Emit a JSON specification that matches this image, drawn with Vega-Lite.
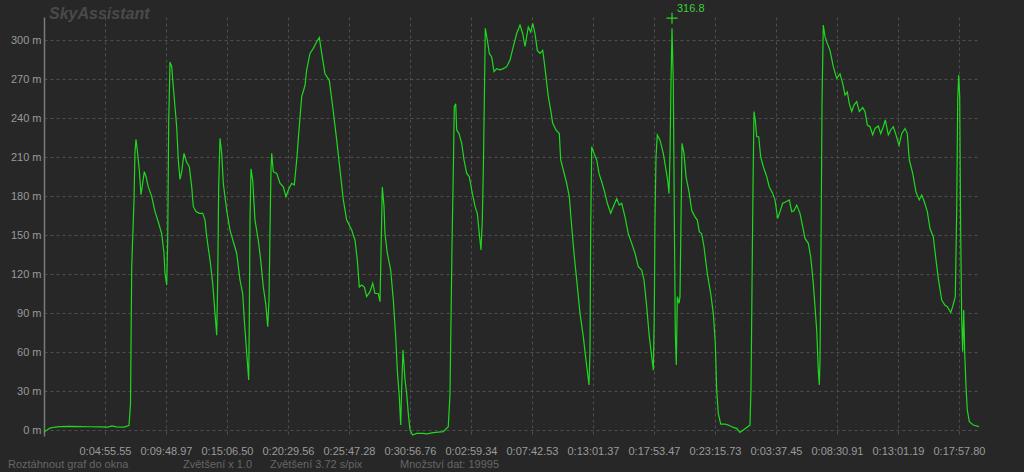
{
  "$schema": "https://vega.github.io/schema/vega-lite/v6.json",
  "autosize": "none",
  "width": 936,
  "height": 419,
  "padding": {"left": 44, "top": 17, "right": 44, "bottom": 36},
  "background": "#272727",
  "config": {
    "view": {"stroke": null},
    "font": "Liberation Sans Narrow, Liberation Sans, sans-serif",
    "axis": {"labelFont": "Liberation Sans Narrow, Liberation Sans, sans-serif", "labelFontSize": 11, "labelColor": "#9a9a9a", "gridColor": "#4e4e4e", "gridDash": [3, 3], "gridWidth": 1, "ticks": false, "title": null}
  },
  "datasets": {
    "flight": [
{"i":44,"h":-1.5},{"i":47,"h":0},{"i":50,"h":1.5},{"i":55,"h":2.3},{"i":60,"h":2.6},{"i":70,"h":2.8},{"i":80,"h":2.6},{"i":90,"h":2.5},{"i":100,"h":2.4},{"i":108,"h":2.3},{"i":112,"h":3.2},{"i":116,"h":2.4},{"i":124,"h":2.2},{"i":129,"h":3.4},{"i":130.5,"h":20},{"i":131.7,"h":125},{"i":134,"h":177},{"i":135,"h":214},{"i":136,"h":223.6},{"i":137.3,"h":215},{"i":139.3,"h":200},{"i":141,"h":181},{"i":142.7,"h":190},{"i":144.3,"h":198.7},{"i":146,"h":195},{"i":148.3,"h":187},{"i":151.7,"h":179.5},{"i":155,"h":168},{"i":158.3,"h":160},{"i":161.7,"h":151},{"i":164,"h":136},{"i":165,"h":120.5},{"i":166.7,"h":111.5},{"i":167.7,"h":146},{"i":168.7,"h":236},{"i":170,"h":283},{"i":171.7,"h":279.5},{"i":173.3,"h":264},{"i":175,"h":248.7},{"i":176.7,"h":233},{"i":178.3,"h":207.7},{"i":180,"h":192.8},{"i":181.7,"h":198.7},{"i":184,"h":212.8},{"i":186.7,"h":206},{"i":189.3,"h":202.5},{"i":191.7,"h":187},{"i":193.3,"h":172},{"i":196,"h":168},{"i":199.3,"h":166.7},{"i":202.7,"h":166.7},{"i":205,"h":161.5},{"i":206.7,"h":148.7},{"i":210,"h":130.8},{"i":212.7,"h":112.8},{"i":215,"h":89.7},{"i":216.7,"h":73},{"i":217.7,"h":115},{"i":218.7,"h":187},{"i":220,"h":224.4},{"i":221.7,"h":212.8},{"i":223.3,"h":189.8},{"i":226.7,"h":169},{"i":230,"h":153.8},{"i":233.3,"h":144.8},{"i":236.7,"h":136},{"i":240,"h":115.4},{"i":242.7,"h":105},{"i":244.3,"h":84.6},{"i":246.7,"h":59},{"i":248.7,"h":38.5},{"i":249.3,"h":84.6},{"i":250,"h":161.5},{"i":251,"h":201},{"i":252.7,"h":192},{"i":255,"h":161.5},{"i":258.3,"h":146},{"i":260.7,"h":130.8},{"i":263.3,"h":110},{"i":265.7,"h":97.4},{"i":267.7,"h":79.5},{"i":269,"h":100},{"i":270,"h":153.8},{"i":271,"h":201},{"i":271.7,"h":212.8},{"i":273.3,"h":198.7},{"i":276.7,"h":197.4},{"i":280,"h":189.8},{"i":283.3,"h":187},{"i":286,"h":179.5},{"i":288.3,"h":184.6},{"i":291.7,"h":189.8},{"i":294.3,"h":188.5},{"i":296.7,"h":207.7},{"i":299,"h":230.8},{"i":301.7,"h":256.4},{"i":305,"h":265},{"i":306.7,"h":277},{"i":310,"h":289.7},{"i":313.3,"h":293.6},{"i":316.7,"h":298.7},{"i":319.3,"h":302},{"i":321.7,"h":289.7},{"i":325,"h":274},{"i":329.3,"h":269},{"i":332.7,"h":248.7},{"i":336.7,"h":223},{"i":340,"h":200},{"i":343.3,"h":177},{"i":346.7,"h":161.5},{"i":351.7,"h":153.8},{"i":355,"h":146},{"i":357.3,"h":130.8},{"i":359.3,"h":110},{"i":361.7,"h":111.5},{"i":364.3,"h":110},{"i":366.7,"h":102.6},{"i":370,"h":106.4},{"i":372.7,"h":112.8},{"i":375,"h":105},{"i":378.3,"h":105},{"i":380,"h":98.7},{"i":381,"h":136},{"i":382.3,"h":187},{"i":384,"h":172},{"i":385,"h":151},{"i":387.3,"h":136},{"i":390.7,"h":123},{"i":393.3,"h":100},{"i":395.7,"h":71.8},{"i":397.3,"h":46},{"i":399.3,"h":25.6},{"i":400.7,"h":3.8},{"i":401.7,"h":33},{"i":403,"h":61.5},{"i":405,"h":38.5},{"i":406.7,"h":28},{"i":408.3,"h":12.8},{"i":410,"h":0},{"i":412.7,"h":-3.8},{"i":416.7,"h":-2.6},{"i":423.3,"h":-2.6},{"i":426.7,"h":-3},{"i":433.3,"h":-2},{"i":443.3,"h":-1.3},{"i":448.3,"h":2.6},{"i":450,"h":28},{"i":451,"h":84.6},{"i":452,"h":141},{"i":453.3,"h":200},{"i":454.3,"h":248.7},{"i":455.7,"h":251},{"i":456.7,"h":230.8},{"i":459,"h":228},{"i":461.7,"h":220.5},{"i":464,"h":207.7},{"i":466.7,"h":197.4},{"i":469.3,"h":195},{"i":471.7,"h":184.6},{"i":475,"h":172},{"i":477.3,"h":166.7},{"i":479.3,"h":151},{"i":481,"h":138.5},{"i":482.3,"h":161.5},{"i":483.3,"h":200},{"i":484.3,"h":251},{"i":485.3,"h":309},{"i":487.3,"h":300},{"i":489.3,"h":289.7},{"i":491.7,"h":287},{"i":494,"h":275.6},{"i":496.7,"h":278},{"i":500,"h":277},{"i":503.3,"h":278},{"i":506.7,"h":279.5},{"i":510,"h":284.6},{"i":513.3,"h":294.9},{"i":516.7,"h":305},{"i":520,"h":311.5},{"i":522.7,"h":305},{"i":525,"h":295},{"i":528.3,"h":310},{"i":530.7,"h":306},{"i":532.7,"h":312.8},{"i":535,"h":305},{"i":537.3,"h":292},{"i":540,"h":289.7},{"i":542.7,"h":292},{"i":544,"h":284.6},{"i":546,"h":271.8},{"i":548.3,"h":256.4},{"i":550.7,"h":246},{"i":552.7,"h":236},{"i":556,"h":230.8},{"i":559.3,"h":228},{"i":560.7,"h":207.7},{"i":563.3,"h":200},{"i":566.7,"h":189.8},{"i":569.3,"h":179.5},{"i":571.7,"h":156.4},{"i":574,"h":136},{"i":576.7,"h":115.4},{"i":580,"h":89.7},{"i":583.3,"h":71.8},{"i":586,"h":53.8},{"i":589,"h":34.6},{"i":590,"h":61.5},{"i":590.7,"h":153.8},{"i":591.7,"h":218},{"i":594,"h":212.8},{"i":596.7,"h":207.7},{"i":599,"h":197.4},{"i":601.7,"h":191},{"i":605,"h":182},{"i":607.3,"h":174.4},{"i":610.7,"h":166.7},{"i":613.3,"h":171.8},{"i":616.7,"h":178},{"i":619.3,"h":173},{"i":621.7,"h":174.4},{"i":625,"h":164},{"i":628.3,"h":151},{"i":631.7,"h":143.6},{"i":635,"h":136},{"i":638.3,"h":125.6},{"i":641.7,"h":123},{"i":644,"h":115.4},{"i":646.7,"h":94.9},{"i":649.3,"h":71.8},{"i":651.7,"h":56.4},{"i":653.3,"h":46},{"i":654.3,"h":89.7},{"i":655,"h":161.5},{"i":656,"h":210},{"i":657.3,"h":227},{"i":660,"h":223},{"i":663.3,"h":212.8},{"i":666,"h":200},{"i":667.7,"h":192},{"i":669,"h":182},{"i":670,"h":212.8},{"i":671,"h":266.7},{"i":672,"h":309},{"i":673.3,"h":266.7},{"i":674.3,"h":166.7},{"i":675.3,"h":74.4},{"i":676.3,"h":50},{"i":677.3,"h":102.6},{"i":679,"h":97.4},{"i":680,"h":102.6},{"i":681,"h":161.5},{"i":682,"h":220.5},{"i":684,"h":212.8},{"i":686,"h":195},{"i":689.3,"h":182},{"i":691.7,"h":169},{"i":695,"h":164},{"i":697.3,"h":161.5},{"i":699.3,"h":152.6},{"i":701.7,"h":151},{"i":704,"h":141},{"i":707.3,"h":120.5},{"i":710.7,"h":105},{"i":713.3,"h":89.7},{"i":715.3,"h":66.7},{"i":716.7,"h":30.8},{"i":718.3,"h":12.8},{"i":720.7,"h":4.6},{"i":725,"h":4.6},{"i":728.3,"h":3.8},{"i":733.3,"h":2},{"i":736.7,"h":1.3},{"i":740,"h":-1.8},{"i":743.3,"h":0},{"i":746.7,"h":2},{"i":750,"h":3.8},{"i":751,"h":33},{"i":752,"h":110},{"i":753,"h":187},{"i":754,"h":245},{"i":755.3,"h":238.5},{"i":756.7,"h":225.6},{"i":758.7,"h":225.6},{"i":760.7,"h":210},{"i":763.3,"h":202.5},{"i":766.7,"h":195},{"i":769.3,"h":187},{"i":772.7,"h":182},{"i":775,"h":177},{"i":777.7,"h":162.8},{"i":780,"h":168},{"i":782.7,"h":174.4},{"i":786,"h":175.6},{"i":789.3,"h":177},{"i":791.7,"h":168},{"i":794,"h":168.7},{"i":796.7,"h":173},{"i":800,"h":166.7},{"i":802.7,"h":156.4},{"i":805,"h":147.4},{"i":808.3,"h":143.6},{"i":810.7,"h":133.3},{"i":813.3,"h":112.8},{"i":815,"h":94.9},{"i":816.7,"h":77},{"i":818.3,"h":46},{"i":819.3,"h":34.6},{"i":820,"h":53.8},{"i":821,"h":141},{"i":822,"h":251},{"i":823.3,"h":311.5},{"i":825,"h":302.6},{"i":827.3,"h":297.4},{"i":830,"h":292},{"i":833.3,"h":279.5},{"i":836.7,"h":270.5},{"i":840,"h":274},{"i":842.7,"h":266.7},{"i":845,"h":257.7},{"i":847.3,"h":260},{"i":849.3,"h":251},{"i":851.7,"h":245},{"i":854,"h":250},{"i":856.7,"h":252.6},{"i":859.3,"h":245},{"i":862.7,"h":248},{"i":865,"h":245},{"i":867.3,"h":234.6},{"i":870,"h":233.3},{"i":872.7,"h":227},{"i":875,"h":232},{"i":878.3,"h":233.8},{"i":880.7,"h":228},{"i":883.3,"h":233.3},{"i":885.3,"h":238.5},{"i":888.3,"h":227},{"i":890.7,"h":230.8},{"i":893.3,"h":233.3},{"i":896,"h":227},{"i":899,"h":219},{"i":901.7,"h":228},{"i":905,"h":232},{"i":907.3,"h":228},{"i":909.3,"h":207.7},{"i":912.7,"h":197.4},{"i":916,"h":183},{"i":919.3,"h":177},{"i":921.7,"h":180.8},{"i":924.3,"h":175.6},{"i":927.3,"h":168},{"i":930,"h":155},{"i":933.3,"h":148.7},{"i":936,"h":130.8},{"i":938.3,"h":116.7},{"i":941.7,"h":100},{"i":945,"h":96},{"i":947.3,"h":94.9},{"i":950.7,"h":90.3},{"i":952.7,"h":95},{"i":955.3,"h":102.6},{"i":956.7,"h":169},{"i":957.7,"h":253.8},{"i":958.7,"h":273},{"i":959.7,"h":256.4},{"i":960.7,"h":151},{"i":961.7,"h":84.6},{"i":962.7,"h":60.3},{"i":963.7,"h":92.3},{"i":964.7,"h":59},{"i":966,"h":33.3},{"i":967.3,"h":15.4},{"i":969.3,"h":6.4},{"i":973.3,"h":3.8},{"i":979,"h":2.6}
    ],
    "maxpoint": [{"i": 672, "h": 316.8}],
    "heading": [{"i": 49, "h": 315.9, "label": "SkyAssistant"}],
    "footer": [
      {"i": 8, "h": -26.9, "label": "Roztáhnout graf do okna"},
      {"i": 183, "h": -26.9, "label": "Zvětšení x 1.0"},
      {"i": 270, "h": -26.9, "label": "Zvětšení  3.72 s/pix"},
      {"i": 400, "h": -26.9, "label": "Množství dat: 19995"}
    ]
  },
  "encoding": {
    "x": {"field": "i", "type": "quantitative", "scale": {"domain": [44, 980], "nice": false, "zero": false},
      "axis": {"values": [105, 166, 227, 288, 349, 410, 471, 532, 593, 654, 715, 776, 837, 898, 959], "grid": true, "domain": false, "labelPadding": 9, "labelFlush": false,
        "labelExpr": "['0:04:55.55','0:09:48.97','0:15:06.50','0:20:29.56','0:25:47.28','0:30:56.76','0:02:59.34','0:07:42.53','0:13:01.37','0:17:53.47','0:23:15.73','0:03:37.45','0:08:30.91','0:13:01.19','0:17:57.80'][round((datum.value - 105) / 61)]"}},
    "y": {"field": "h", "type": "quantitative", "scale": {"domain": [-4.6, 317.7], "nice": false, "zero": false},
      "axis": {"values": [0, 30, 60, 90, 120, 150, 180, 210, 240, 270, 300], "grid": true, "domain": true, "domainColor": "#7a7a7a", "domainWidth": 1.5, "labelPadding": 3, "labelExpr": "datum.value + ' m'"}}
  },
  "layer": [
    {
      "data": {"name": "heading"},
      "mark": {"type": "text", "align": "left", "baseline": "alphabetic", "font": "Liberation Sans", "fontSize": 16, "fontStyle": "italic", "fontWeight": "bold", "color": "#4a4a4a"},
      "encoding": {"text": {"field": "label"}}
    },
    {
      "mark": {"type": "rule", "color": "#a5a5a5", "strokeWidth": 1.2},
      "encoding": {"x": {"datum": 44}, "x2": {"datum": 1024}, "y": {"datum": 0}}
    },
    {
      "data": {"name": "flight"},
      "mark": {"type": "line", "color": "#1fd81f", "strokeWidth": 1.2}
    },
    {
      "data": {"name": "maxpoint"},
      "mark": {"type": "point", "shape": "M-1,0L1,0M0,-1L0,1", "size": 121, "stroke": "#2ad42a", "strokeWidth": 1.2, "filled": false, "opacity": 1}
    },
    {
      "data": {"name": "maxpoint"},
      "mark": {"type": "text", "align": "left", "baseline": "middle", "dx": 5, "dy": -9, "fontSize": 11, "color": "#3ad13a"},
      "encoding": {"text": {"field": "h", "type": "quantitative", "format": ".1f"}}
    },
    {
      "data": {"name": "footer"},
      "mark": {"type": "text", "align": "left", "baseline": "middle", "fontSize": 11, "color": "#666666"},
      "encoding": {"text": {"field": "label"}}
    }
  ]
}
